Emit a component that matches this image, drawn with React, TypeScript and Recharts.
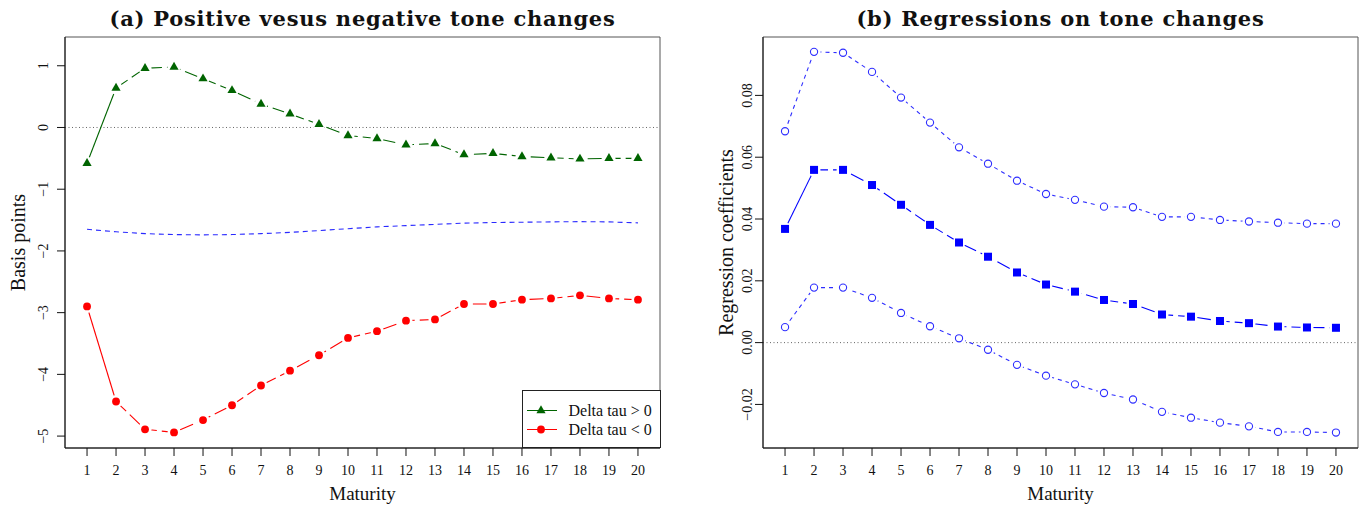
import React from 'react';
import { LineChart, Line, XAxis, YAxis, ReferenceLine, ReferenceArea, Legend } from 'recharts';

// ---------- data ----------
const maturity = [1, 2, 3, 4, 5, 6, 7, 8, 9, 10, 11, 12, 13, 14, 15, 16, 17, 18, 19, 20];
const posTone = [-0.58, 0.64, 0.96, 0.98, 0.79, 0.6, 0.38, 0.22, 0.05, -0.13, -0.18, -0.28, -0.26, -0.44, -0.42, -0.47, -0.49, -0.51, -0.5, -0.5];
const negTone = [-2.9, -4.44, -4.89, -4.94, -4.74, -4.5, -4.18, -3.94, -3.69, -3.41, -3.3, -3.13, -3.11, -2.86, -2.86, -2.79, -2.77, -2.72, -2.77, -2.79];
const avgTone = [-1.65, -1.69, -1.72, -1.735, -1.74, -1.735, -1.72, -1.7, -1.67, -1.64, -1.61, -1.59, -1.57, -1.55, -1.54, -1.535, -1.53, -1.525, -1.53, -1.545];
const coefEstimate = [0.0368, 0.0559, 0.0559, 0.051, 0.0446, 0.0381, 0.0324, 0.0278, 0.0227, 0.0188, 0.0165, 0.0138, 0.0125, 0.0091, 0.0084, 0.007, 0.0063, 0.0052, 0.0049, 0.0048];
const ciUpper = [0.0684, 0.0941, 0.0938, 0.0876, 0.0793, 0.0712, 0.0632, 0.0579, 0.0524, 0.0481, 0.0462, 0.044, 0.0438, 0.0407, 0.0407, 0.0397, 0.0392, 0.0388, 0.0385, 0.0385];
const ciLower = [0.005, 0.0178, 0.0178, 0.0145, 0.0096, 0.0053, 0.0014, -0.0023, -0.0072, -0.0107, -0.0135, -0.0163, -0.0184, -0.0224, -0.0243, -0.0259, -0.0271, -0.0289, -0.0289, -0.0291];
const leftYTicks = [-5, -4, -3, -2, -1, 0, 1];
const rightYTicks = [-0.02, 0, 0.02, 0.04, 0.06, 0.08];
const legendLabels = ['Delta tau > 0', 'Delta tau < 0'];
const titleA = '(a) Positive vesus negative tone changes';
const titleB = '(b) Regressions on tone changes';

const xDomain: [number, number] = [0.24, 20.76];
const leftYDomain: [number, number] = [-5.193, 1.466];
const rightYDomain: [number, number] = [-0.0341, 0.0989];

const leftData = maturity.map((m, i) => ({
  m,
  pos: posTone[i],
  neg: negTone[i],
  avg: avgTone[i],
  posHead: i <= 1 ? posTone[i] : null,
  posTail: i >= 1 ? posTone[i] : null,
  negHead: i <= 1 ? negTone[i] : null,
  negTail: i >= 1 ? negTone[i] : null,
}));

const rightData = maturity.map((m, i) => ({
  m,
  coef: coefEstimate[i],
  up: ciUpper[i],
  lo: ciLower[i],
  coefHead: i <= 1 ? coefEstimate[i] : null,
  coefTail: i >= 1 ? coefEstimate[i] : null,
}));

// ---------- styling ----------
const SERIF = '"Liberation Serif", "Times New Roman", serif';
const GREEN = '#006400';
const RED = '#ff0000';
const BLUE = '#0000ff';
const CI_BLUE = '#2e2eff';
const HALO = 6.5;
const LONG_DASH = '14 5';

const minus = '\u2212';
const fmtLeft = (v: number) => (v < 0 ? minus + Math.abs(v) : String(v));
const fmtRight = (v: number) => (v < 0 ? minus : '') + Math.abs(v).toFixed(2);

// ---------- ticks ----------
const XTick = (p: any) => (
  <text x={p.x} y={p.y + 17} textAnchor="middle" fontSize={14} fontFamily={SERIF} fill="#111">
    {p.payload.value}
  </text>
);

const makeYTick = (dx: number, fmt: (v: number) => string) => (p: any) => (
  <text
    transform={`translate(${p.x + dx},${p.y}) rotate(-90)`}
    textAnchor="middle"
    fontSize={14}
    fontFamily={SERIF}
    fill="#111"
  >
    {fmt(p.payload.value)}
  </text>
);
const LeftYTick = makeYTick(-7, fmtLeft);
const RightYTick = makeYTick(-1, fmtRight);

// ---------- markers ----------
const valid = (p: any) => p.cx != null && p.cy != null && p.value != null;

const triangleDot = (p: any) => {
  if (!valid(p)) return <g key={p.index} />;
  const r = 5.3;
  const { cx, cy } = p;
  const hw = r * 0.866;
  return (
    <g key={p.index}>
      <circle cx={cx} cy={cy} r={HALO} fill="#fff" />
      <polygon points={`${cx},${cy - r} ${cx + hw},${cy + r / 2} ${cx - hw},${cy + r / 2}`} fill={GREEN} />
    </g>
  );
};

const redDot = (p: any) => {
  if (!valid(p)) return <g key={p.index} />;
  return (
    <g key={p.index}>
      <circle cx={p.cx} cy={p.cy} r={HALO} fill="#fff" />
      <circle cx={p.cx} cy={p.cy} r={3.9} fill={RED} />
    </g>
  );
};

const squareDot = (p: any) => {
  if (!valid(p)) return <g key={p.index} />;
  const h = 4;
  return (
    <g key={p.index}>
      <circle cx={p.cx} cy={p.cy} r={HALO} fill="#fff" />
      <rect x={p.cx - h} y={p.cy - h} width={2 * h} height={2 * h} fill={BLUE} />
    </g>
  );
};

const openDot = (p: any) => {
  if (!valid(p)) return <g key={p.index} />;
  return (
    <g key={p.index}>
      <circle cx={p.cx} cy={p.cy} r={HALO} fill="#fff" />
      <circle cx={p.cx} cy={p.cy} r={3.6} fill="#fff" stroke={CI_BLUE} strokeWidth={1.1} />
    </g>
  );
};

// ---------- legend ----------
const LegendBox = () => {
  const rows = [
    { label: legendLabels[0], color: GREEN, kind: 'tri' },
    { label: legendLabels[1], color: RED, kind: 'dot' },
  ];
  return (
    <div
      style={{
        width: 139,
        height: 58,
        boxSizing: 'border-box',
        border: '1px solid #222',
        background: '#fff',
        paddingTop: 10,
        fontFamily: SERIF,
        fontSize: 16,
        color: '#111',
      }}
    >
      {rows.map((r) => (
        <div key={r.label} style={{ display: 'flex', alignItems: 'center', height: 19, lineHeight: '19px' }}>
          <svg width={46} height={19} style={{ display: 'block' }}>
            <line x1={4} y1={9.5} x2={34} y2={9.5} stroke={r.color} strokeWidth={1} />
            {r.kind === 'tri' ? (
              <polygon points={`18,${9.5 - 5.3} ${18 + 4.6},${9.5 + 2.65} ${18 - 4.6},${9.5 + 2.65}`} fill={r.color} />
            ) : (
              <circle cx={18} cy={9.5} r={3.9} fill={r.color} />
            )}
          </svg>
          <span style={{ whiteSpace: 'nowrap' }}>{r.label}</span>
        </div>
      ))}
    </div>
  );
};

const axisCommon = {
  axisLine: { stroke: '#111' },
  tickLine: { stroke: '#111' },
  tickSize: 8,
  tickMargin: 2,
  interval: 0 as const,
};

const titleStyle = {
  fontFamily: '"DejaVu Serif", serif',
  fontWeight: 'bold' as const,
  fontSize: 21,
  letterSpacing: 0.75,
  fill: '#111',
};

export default function App() {
  return (
    <div style={{ position: 'absolute', left: 0, top: 0, width: 1364, height: 510, background: '#fff', overflow: 'hidden' }}>
      {/* Panel (a) */}
      <div style={{ position: 'absolute', left: 0, top: 0 }}>
        <LineChart width={682} height={510} data={leftData} margin={{ top: 37, right: 22, bottom: 0, left: 0 }}>
          <ReferenceArea x1={xDomain[0]} x2={xDomain[1]} y1={leftYDomain[0]} y2={leftYDomain[1]} fill="none" stroke="#555" ifOverflow="visible" />
          <ReferenceLine y={0} stroke="#666" strokeDasharray="1 2.5" />
          <XAxis dataKey="m" type="number" domain={xDomain} ticks={maturity} allowDataOverflow height={62} tick={<XTick />} {...axisCommon} />
          <YAxis type="number" domain={leftYDomain} ticks={leftYTicks} allowDataOverflow width={65} tick={<LeftYTick />} {...axisCommon} />
          <Line dataKey="avg" stroke="#2a2aff" strokeWidth={1.1} strokeDasharray="5 4" dot={false} activeDot={false} isAnimationActive={false} legendType="none" />
          <Line dataKey="posHead" stroke={GREEN} strokeWidth={1.1} dot={false} activeDot={false} isAnimationActive={false} legendType="none" />
          <Line dataKey="posTail" stroke={GREEN} strokeWidth={1.1} strokeDasharray={LONG_DASH} dot={false} activeDot={false} isAnimationActive={false} legendType="none" />
          <Line dataKey="negHead" stroke={RED} strokeWidth={1.1} dot={false} activeDot={false} isAnimationActive={false} legendType="none" />
          <Line dataKey="negTail" stroke={RED} strokeWidth={1.1} strokeDasharray={LONG_DASH} dot={false} activeDot={false} isAnimationActive={false} legendType="none" />
          <Line dataKey="pos" stroke="none" dot={triangleDot} activeDot={false} isAnimationActive={false} />
          <Line dataKey="neg" stroke="none" dot={redDot} activeDot={false} isAnimationActive={false} />
          <Legend
            layout="horizontal"
            align="center"
            verticalAlign="middle"
            content={<LegendBox />}
            wrapperStyle={{ left: 521.5, top: 390, right: 'auto', bottom: 'auto', width: 139, height: 58 }}
          />
        </LineChart>
      </div>

      {/* Panel (b) */}
      <div style={{ position: 'absolute', left: 682, top: 0 }}>
        <LineChart width={682} height={510} data={rightData} margin={{ top: 37, right: 6, bottom: 0, left: 0 }}>
          <ReferenceArea x1={xDomain[0]} x2={xDomain[1]} y1={rightYDomain[0]} y2={rightYDomain[1]} fill="none" stroke="#555" ifOverflow="visible" />
          <ReferenceLine y={0} stroke="#666" strokeDasharray="1 2.5" />
          <XAxis dataKey="m" type="number" domain={xDomain} ticks={maturity} allowDataOverflow height={62} tick={<XTick />} {...axisCommon} />
          <YAxis type="number" domain={rightYDomain} ticks={rightYTicks} allowDataOverflow width={81} tick={<RightYTick />} {...axisCommon} />
          <Line dataKey="up" stroke={CI_BLUE} strokeWidth={1.1} strokeDasharray="4 4" dot={false} activeDot={false} isAnimationActive={false} />
          <Line dataKey="lo" stroke={CI_BLUE} strokeWidth={1.1} strokeDasharray="4 4" dot={false} activeDot={false} isAnimationActive={false} />
          <Line dataKey="coefHead" stroke={BLUE} strokeWidth={1.1} dot={false} activeDot={false} isAnimationActive={false} />
          <Line dataKey="coefTail" stroke={BLUE} strokeWidth={1.1} strokeDasharray={LONG_DASH} dot={false} activeDot={false} isAnimationActive={false} />
          <Line dataKey="up" stroke="none" dot={openDot} activeDot={false} isAnimationActive={false} />
          <Line dataKey="lo" stroke="none" dot={openDot} activeDot={false} isAnimationActive={false} />
          <Line dataKey="coef" stroke="none" dot={squareDot} activeDot={false} isAnimationActive={false} />
        </LineChart>
      </div>

      {/* Titles and axis titles */}
      <svg width={1364} height={510} style={{ position: 'absolute', left: 0, top: 0, pointerEvents: 'none' }}>
        <text x={362.5} y={26} textAnchor="middle" {...titleStyle}>
          {titleA}
        </text>
        <text x={1060.5} y={26} textAnchor="middle" {...titleStyle}>
          {titleB}
        </text>
        <text x={362.5} y={500} textAnchor="middle" fontFamily={SERIF} fontSize={19} fill="#111">Maturity</text>
        <text x={1060.5} y={500} textAnchor="middle" fontFamily={SERIF} fontSize={19} fill="#111">Maturity</text>
        <text transform="translate(25,242.5) rotate(-90)" textAnchor="middle" fontFamily={SERIF} fontSize={20} fill="#111">Basis points</text>
        <text transform="translate(733,242.5) rotate(-90)" textAnchor="middle" fontFamily={SERIF} fontSize={20} fill="#111">Regression coefficients</text>
      </svg>
    </div>
  );
}
